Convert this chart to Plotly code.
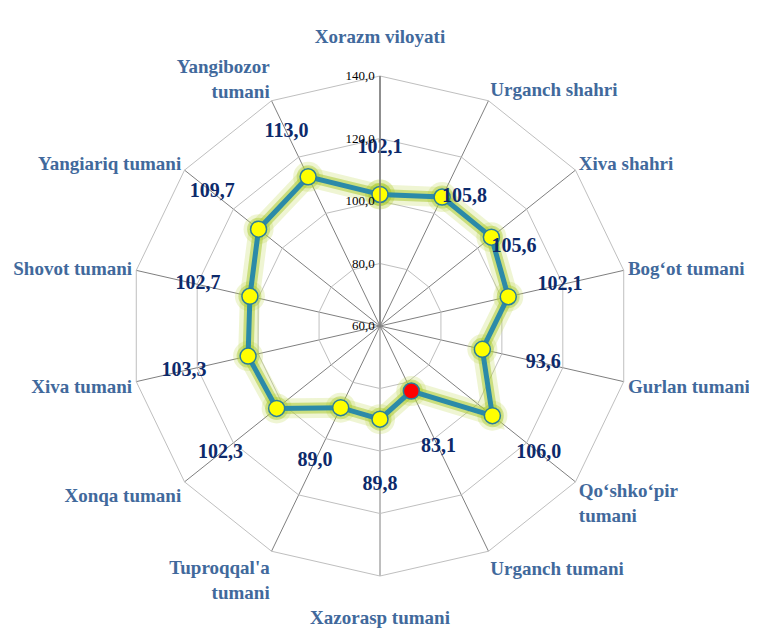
import plotly.graph_objects as go

categories = ["Xorazm viloyati", "Urganch shahri", "Xiva shahri", "Bog‘ot tumani",
              "Gurlan tumani", "Qo‘shko‘pir tumani", "Urganch tumani", "Xazorasp tumani",
              "Tuproqqal'a tumani", "Xonqa tumani", "Xiva tumani", "Shovot tumani",
              "Yangiariq tumani", "Yangibozor tumani"]
category_ticktext = ["Xorazm viloyati<br> ", "Urganch shahri", "Xiva shahri", "Bog‘ot tumani",
                     "Gurlan tumani", "Qo‘shko‘pir<br>tumani", "Urganch tumani", " <br>Xazorasp tumani",
                     "Tuproqqal'a<br>tumani", "Xonqa tumani", "Xiva tumani", "Shovot tumani",
                     "Yangiariq tumani", "Yangibozor<br>tumani"]
values = [102.1, 105.8, 105.6, 102.1, 93.6, 106.0, 83.1, 89.8, 89.0, 102.3, 103.3, 102.7, 109.7, 113.0]
radial_ticks = [60, 80, 100, 120, 140]
highlight_index = 6  # Urganch tumani drawn in red

# label placement (style only)
label_shift = [15, 0, 0, 17, 20, 19, 20, 21, 19, 23, 21, 17, 19, 16]
label_pos = ["middle center", "middle right", "bottom right"] + ["middle center"] * 11

loop_theta = categories + categories[:1]
loop_r = values + values[:1]

teal = "#2B8AA8"
fig = go.Figure()

# glow layers
fig.add_trace(go.Scatterpolar(r=loop_r, theta=loop_theta, mode="lines+markers",
                              line=dict(color="rgba(190,215,80,0.25)", width=20),
                              marker=dict(size=30, color="rgba(190,215,80,0.25)"),
                              hoverinfo="skip", showlegend=False))
fig.add_trace(go.Scatterpolar(r=loop_r, theta=loop_theta, mode="lines+markers",
                              line=dict(color="rgba(165,200,40,0.5)", width=11),
                              marker=dict(size=23, color="rgba(170,205,50,0.45)"),
                              hoverinfo="skip", showlegend=False))
# main line
fig.add_trace(go.Scatterpolar(r=loop_r, theta=loop_theta, mode="lines",
                              line=dict(color=teal, width=5),
                              hoverinfo="skip", showlegend=False))
# markers
marker_colors = ["#FF0000" if i == highlight_index else "#FFFF00" for i in range(len(values))]
fig.add_trace(go.Scatterpolar(r=values, theta=categories, mode="markers",
                              marker=dict(size=16, color=marker_colors,
                                          line=dict(color="#2A7E99", width=1.5)),
                              showlegend=False))
# data labels
label_r = [v + s for v, s in zip(values, label_shift)]
label_text = [f"{v:.1f}".replace(".", ",") for v in values]
fig.add_trace(go.Scatterpolar(r=label_r, theta=categories, mode="text",
                              text=label_text, textposition=label_pos,
                              textfont=dict(family="Liberation Serif", size=20, color="#0D2A6B"),
                              texttemplate="<b>%{text}</b>",
                              hoverinfo="skip", showlegend=False, cliponaxis=False))

W, H = 757, 642
cx, cy, R = 372, 318, 250
fig.update_layout(
    width=W, height=H,
    margin=dict(l=0, r=0, t=0, b=0),
    paper_bgcolor="white", plot_bgcolor="white",
    separators=",.",
    showlegend=False,
    polar=dict(
        domain=dict(x=[(cx - R) / W, (cx + R) / W],
                    y=[(H - cy - R) / H, (H - cy + R) / H]),
        bgcolor="white",
        gridshape="linear",
        radialaxis=dict(range=[60, 140], tickvals=radial_ticks, tickformat=".1f",
                        angle=90, side="counterclockwise", tickangle=90,
                        showline=True, linecolor="#7F7F7F", linewidth=1.5,
                        gridcolor="#BFBFBF", gridwidth=1, ticks="",
                        tickfont=dict(family="Liberation Serif", size=13, color="#000000")),
        angularaxis=dict(direction="clockwise", rotation=90,
                         tickmode="array", tickvals=categories,
                         ticktext=[f"<b>{t}</b>" for t in category_ticktext],
                         showline=True, linecolor="#BFBFBF", linewidth=1,
                         gridcolor="#7F7F7F", gridwidth=1, ticks="",
                         tickfont=dict(family="Liberation Serif", size=19, color="#41699C")),
    ),
)
fig.write_html("out.html")
